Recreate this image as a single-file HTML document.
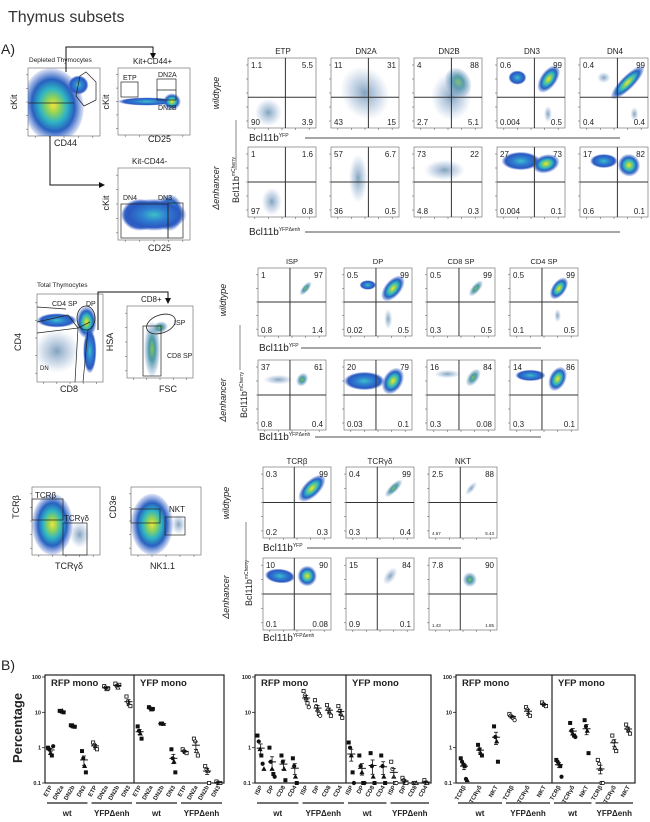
<!DOCTYPE html>
<html><head><meta charset="utf-8">
<style>
html,body{margin:0;padding:0;background:#fff;}
svg{display:block;font-family:"Liberation Sans",sans-serif;}
</style></head>
<body>
<svg id="fig" width="650" height="822" viewBox="0 0 650 822" xmlns="http://www.w3.org/2000/svg">
<defs>
<radialGradient id="hot"><stop offset="0" stop-color="#f2e33a"/><stop offset="0.22" stop-color="#8fd35a"/><stop offset="0.45" stop-color="#2fb5c4"/><stop offset="0.7" stop-color="#2860c0"/><stop offset="1" stop-color="#3a62c8" stop-opacity="0.15"/></radialGradient>
<radialGradient id="mid"><stop offset="0" stop-color="#3cc0c8"/><stop offset="0.4" stop-color="#2f7fd0"/><stop offset="0.8" stop-color="#2a58c0"/><stop offset="1" stop-color="#3a62c8" stop-opacity="0.1"/></radialGradient>
<radialGradient id="grn"><stop offset="0" stop-color="#7fc45a"/><stop offset="0.4" stop-color="#4a9aa8"/><stop offset="1" stop-color="#6a90c0" stop-opacity="0.1"/></radialGradient>
<radialGradient id="cool"><stop offset="0" stop-color="#4a7aa0" stop-opacity="0.7"/><stop offset="0.6" stop-color="#7fa0c8" stop-opacity="0.35"/><stop offset="1" stop-color="#a0b8d8" stop-opacity="0"/></radialGradient>
<marker id="arr" markerWidth="6" markerHeight="6" refX="5" refY="3" orient="auto"><path d="M0,0 L6,3 L0,6 z" fill="#111"/></marker>
</defs>
<text x="8" y="22" font-size="16" fill="#333">Thymus subsets</text>
<text x="1" y="54" font-size="14" fill="#222">A)</text>
<text x="1" y="670" font-size="14" fill="#222">B)</text>
</svg>
<script>
var svg=document.getElementById('fig');
var NS='http://www.w3.org/2000/svg';
function mk(tag,attrs,parent){var e=document.createElementNS(NS,tag);for(var k in attrs)e.setAttribute(k,attrs[k]);(parent||svg).appendChild(e);return e;}
function txt(x,y,s,size,parent,extra){var t=mk('text',Object.assign({x:x,y:y,'font-size':size,fill:'#222'},extra||{}),parent);t.textContent=s;return t;}

// ---------- flow plot helper ----------
function flowPlot(name,x,y,w,h,vq,hq,nums,blobs,small){
  var g=mk('g',{});
  
  
  mk('rect',{x:x,y:y,width:w,height:h,fill:'#fff',stroke:'#777','stroke-width':0.7},g);
  var cp=mk('clipPath',{id:'cp-'+name},g);
  mk('rect',{x:x,y:y,width:w,height:h},cp);
  var bg=mk('g',{'clip-path':'url(#cp-'+name+')'},g);
  blobs.forEach(function(b){
    var e=mk('ellipse',{cx:x+b[0]*w,cy:y+b[1]*h,rx:b[2]*w,ry:b[3]*h,fill:'url(#'+b[5]+')',transform:'rotate('+b[4]+' '+(x+b[0]*w)+' '+(y+b[1]*h)+')'},bg);
    
    
  });
  for(var i=0;i<5;i++){
    mk('line',{x1:x+w*(0.1+i*0.2),y1:y+h,x2:x+w*(0.1+i*0.2),y2:y+h+2,stroke:'#666','stroke-width':0.6},g);
    mk('line',{x1:x-2,y1:y+h*(0.1+i*0.2),x2:x,y2:y+h*(0.1+i*0.2),stroke:'#666','stroke-width':0.6},g);
  }
  if(vq!==null){
    var v=mk('line',{x1:x+vq*w,y1:y,x2:x+vq*w,y2:y+h,stroke:'#333','stroke-width':1},g);
    
    
    var hz=mk('line',{x1:x,y1:y+hq*h,x2:x+w,y2:y+hq*h,stroke:'#333','stroke-width':1},g);
    
    
  }
  if(nums){
    var fs=8;
    var a=txt(x+3,y+10,nums[0],fs,g);
    var b=txt(x+w-3,y+10,nums[1],fs,g,{'text-anchor':'end'});
    var c=txt(x+3,y+h-3,nums[2],small&&small[0]?4.5:fs,g);
    var d=txt(x+w-3,y+h-3,nums[3],small&&small[0]?4.5:fs,g,{'text-anchor':'end'});
  }
  return g;
}
function vlabel(x,y,s,size,name,italic){var t=txt(x,y,s,size,svg,{transform:'rotate(-90 '+x+' '+y+')','text-anchor':'middle','font-style':italic?'italic':'normal'});return t;}
function axisLab(x,y,base,sup,name,lineTo){
  var t=mk('text',{x:x,y:y,'font-size':10,fill:'#222'});t.textContent=base;
  var s=mk('tspan',{'font-size':5,dy:-4},t);s.textContent=sup;
  
  if(lineTo){var l=mk('line',{x1:lineTo[0],y1:y-3,x2:lineTo[1],y2:y-3,stroke:'#888','stroke-width':1.5});}
}
function plainLab(x,y,s,size,name,anchor){var t=txt(x,y,s,size,svg,{'text-anchor':anchor||'start'});return t;}

// ---------- left gating ----------
plainLab(29,62,'Depleted Thymocytes',6.5,'depleted-thymocytes-title');
flowPlot('cd44-ckit-plot',28,68,72,68,null,null,null,[[0.35,0.55,0.42,0.55,-10,'hot'],[0.7,0.25,0.14,0.14,0,'mid']]);
mk('path',{d:'M86,72 L96,82 L96,100 L84,106 L76,96 L80,76 Z',fill:'none',stroke:'#222','stroke-width':0.7});
mk('line',{x1:28,y1:103,x2:74,y2:103,stroke:'#222','stroke-width':0.8});
vlabel(17,102,'cKit',9,'ckit-axis-title');
plainLab(54,146,'CD44',9,'cd44-axis-title');
var ar1=mk('path',{d:'M66,72 L66,47 L153,47 L153,58',fill:'none',stroke:'#111','stroke-width':1,'marker-end':'url(#arr)'});

plainLab(133,64,'Kit+CD44+',8,'kit-cd44-pos-title');
flowPlot('cd25-ckit-plot',118,68,72,67,null,null,null,[[0.4,0.5,0.4,0.06,0,'mid'],[0.75,0.5,0.12,0.12,0,'hot']]);
mk('rect',{x:121,y:82,width:17,height:15,fill:'none',stroke:'#222','stroke-width':0.7});
mk('rect',{x:157,y:79,width:19,height:21,fill:'none',stroke:'#222','stroke-width':0.7});
mk('line',{x1:157,y1:90,x2:176,y2:90,stroke:'#222','stroke-width':0.7});
plainLab(123,80,'ETP',7,'etp-gate-label');plainLab(158,77,'DN2A',7,'dn2a-gate-label');plainLab(158,110,'DN2B',7,'dn2b-gate-label');
vlabel(109,102,'cKit',9,'ckit-axis-title-2');
plainLab(148,142,'CD25',9,'cd25-axis-title');
var ar2=mk('path',{d:'M50,136 L50,185 L104,185',fill:'none',stroke:'#111','stroke-width':1,'marker-end':'url(#arr)'});

plainLab(132,164,'Kit-CD44-',8,'kit-cd44-neg-title');
flowPlot('cd25-ckit-neg-plot',118,168,72,72,null,null,null,[[0.3,0.65,0.25,0.22,0,'mid'],[0.72,0.62,0.18,0.25,0,'hot'],[0.5,0.65,0.45,0.22,0,'mid']]);
mk('rect',{x:121,y:204,width:47,height:34,fill:'none',stroke:'#222','stroke-width':0.7});
mk('rect',{x:168,y:203,width:15,height:35,fill:'none',stroke:'#222','stroke-width':0.7});
plainLab(123,200,'DN4',7,'dn4-gate-label');plainLab(158,200,'DN3',7,'dn3-gate-label');
vlabel(109,203,'cKit',9,'ckit-axis-title-3');
plainLab(148,251,'CD25',9,'cd25-axis-title-2');

// ---------- DN top grid ----------
var dnNames=['ETP','DN2A','DN2B','DN3','DN4'];
var dnX=[248,331,414,497,580];
var dnWT=[['1.1','5.5','90','3.9'],['11','31','43','15'],['4','88','2.7','5.1'],['0.6','99','0.004','0.5'],['0.4','99','0.4','0.4']];
var dnKO=[['1','1.6','97','0.8'],['57','6.7','36','0.5'],['73','22','4.8','0.3'],['27','73','0.004','0.1'],['17','82','0.6','0.1']];
var dnBlobWT=[[[0.3,0.78,0.2,0.2,0,'cool']],[[0.5,0.5,0.35,0.4,-30,'cool']],[[0.65,0.35,0.18,0.22,-30,'grn'],[0.55,0.55,0.3,0.35,0,'cool']],[[0.3,0.28,0.13,0.1,0,'mid'],[0.76,0.3,0.12,0.22,35,'hot'],[0.75,0.8,0.06,0.12,0,'cool']],[[0.7,0.35,0.1,0.32,45,'hot'],[0.35,0.28,0.1,0.08,0,'cool'],[0.8,0.8,0.06,0.1,0,'cool']]];
var dnBlobKO=[[[0.35,0.78,0.15,0.2,0,'cool']],[[0.4,0.45,0.14,0.35,0,'cool']],[[0.45,0.33,0.3,0.15,0,'cool']],[[0.35,0.2,0.28,0.13,0,'mid'],[0.72,0.24,0.2,0.13,-15,'hot']],[[0.35,0.2,0.2,0.1,0,'mid'],[0.72,0.26,0.16,0.16,-30,'hot']]];
dnNames.forEach(function(n,i){
  plainLab(dnX[i]+35,54,n,8,'col-title-'+n.toLowerCase(),'middle');
  flowPlot('dn-wt-'+n.toLowerCase(),dnX[i],58,68,70,0.55,0.56,dnWT[i],dnBlobWT[i]);
  flowPlot('dn-enh-'+n.toLowerCase(),dnX[i],147,68,70,0.55,0.5,dnKO[i],dnBlobKO[i]);
});
vlabel(219,93,'wildtype',9,'wildtype-row-label',true);
vlabel(219,188,'\u0394enhancer',9,'enhancer-row-label',true);
var mc=vlabel(239,180,'Bcl11b',9,'bcl11b-mcherry-axis-title');var mcs=mk('tspan',{'font-size':5,dy:-4},mc);mcs.textContent='mCherry';
mk('line',{x1:236,y1:120,x2:236,y2:170,stroke:'#888','stroke-width':1});
axisLab(249,141,'Bcl11b','YFP','bcl11b-yfp-axis-title-dn',[305,620]);
axisLab(249,235,'Bcl11b','YFP\u0394enh','bcl11b-yfpdenh-axis-title-dn',[305,620]);

// ---------- middle gating ----------
plainLab(37,287,'Total Thymocytes',6.5,'total-thymocytes-title');
flowPlot('cd8-cd4-plot',37,294,66,88,null,null,null,[[0.3,0.3,0.3,0.08,0,'mid'],[0.75,0.32,0.15,0.18,0,'hot'],[0.3,0.65,0.35,0.25,0,'cool'],[0.8,0.65,0.1,0.25,0,'mid']]);
mk('path',{d:'M37,307 L66,309 M37,322 L68,315 L78,328 L90,322 M37,333 L78,328 L75,382 M83,382 L88,330',fill:'none',stroke:'#222','stroke-width':0.7});
mk('ellipse',{cx:86,cy:318,rx:9,ry:12,fill:'none',stroke:'#222','stroke-width':0.8});
plainLab(52,306,'CD4 SP',7,'cd4sp-gate-label');plainLab(86,306,'DP',7,'dp-gate-label');plainLab(40,370,'DN',6,'dn-gate-label');
vlabel(21,342,'CD4',9,'cd4-axis-title');
plainLab(60,392,'CD8',9,'cd8-axis-title');
var ar3=mk('path',{d:'M98,330 L98,292 L168,292 L168,303',fill:'none',stroke:'#111','stroke-width':1,'marker-end':'url(#arr)'});

plainLab(141,302,'CD8+',8,'cd8-pos-title');
flowPlot('fsc-hsa-plot',127,306,66,72,null,null,null,[[0.5,0.3,0.12,0.08,-20,'grn'],[0.38,0.6,0.12,0.38,0,'grn']]);
mk('ellipse',{cx:161,cy:324,rx:15,ry:9,fill:'none',stroke:'#222','stroke-width':0.8,transform:'rotate(-20 161 324)'});
mk('rect',{x:143,y:326,width:18,height:50,fill:'none',stroke:'#222','stroke-width':0.7});
plainLab(174,325,'ISP',7,'isp-gate-label');plainLab(167,358,'CD8 SP',7,'cd8sp-gate-label');
vlabel(113,342,'HSA',9,'hsa-axis-title');
plainLab(159,392,'FSC',9,'fsc-axis-title');

var spNames=['ISP','DP','CD8 SP','CD4 SP'];
var spX=[258,344,427,510];
var spWT=[['1','97','0.8','1.4'],['0.5','99','0.02','0.5'],['0.5','99','0.3','0.5'],['0.5','99','0.1','0.5']];
var spKO=[['37','61','0.8','0.4'],['20','79','0.03','0.1'],['16','84','0.3','0.08'],['14','86','0.3','0.1']];
var spBlobWT=[[[0.7,0.3,0.05,0.12,40,'grn']],[[0.72,0.3,0.12,0.22,40,'hot'],[0.35,0.25,0.12,0.07,0,'mid'],[0.65,0.75,0.06,0.15,0,'cool']],[[0.72,0.3,0.06,0.14,40,'grn']],[[0.72,0.3,0.1,0.18,35,'hot'],[0.7,0.7,0.05,0.1,0,'cool']]];
var spBlobKO=[[[0.3,0.28,0.22,0.07,0,'cool'],[0.65,0.28,0.08,0.1,30,'grn']],[[0.3,0.3,0.3,0.13,0,'mid'],[0.72,0.3,0.14,0.2,30,'hot']],[[0.3,0.2,0.2,0.06,0,'cool'],[0.68,0.25,0.08,0.14,35,'grn']],[[0.3,0.22,0.22,0.08,0,'mid'],[0.7,0.27,0.12,0.18,25,'hot']]];
spNames.forEach(function(n,i){
  var k=n.replace(' ','').toLowerCase();
  plainLab(spX[i]+34,264,n,7.5,'col-title-'+k,'middle');
  flowPlot('sp-wt-'+k,spX[i],268,68,68,0.47,0.5,spWT[i],spBlobWT[i]);
  flowPlot('sp-enh-'+k,spX[i],360,68,70,0.47,0.5,spKO[i],spBlobKO[i]);
});
vlabel(226,300,'wildtype',9,'wildtype-row-label-2',true);
vlabel(226,400,'\u0394enhancer',9,'enhancer-row-label-2',true);
var mc2=vlabel(247,395,'Bcl11b',9,'bcl11b-mcherry-axis-title-2');var mcs2=mk('tspan',{'font-size':5,dy:-4},mc2);mcs2.textContent='mCherry';
mk('line',{x1:240,y1:325,x2:240,y2:370,stroke:'#888','stroke-width':1});
axisLab(259,351,'Bcl11b','YFP','bcl11b-yfp-axis-title-sp',[301,541]);
axisLab(259,440,'Bcl11b','YFP\u0394enh','bcl11b-yfpdenh-axis-title-sp',[315,541]);

// ---------- TCR gating ----------
flowPlot('tcrgd-tcrb-plot',32,487,68,68,null,null,null,[[0.3,0.55,0.3,0.45,0,'hot'],[0.7,0.7,0.15,0.2,0,'cool']]);
mk('rect',{x:32,y:499,width:31,height:21,fill:'none',stroke:'#222','stroke-width':0.7});
mk('rect',{x:63,y:523,width:24,height:32,fill:'none',stroke:'#222','stroke-width':0.7});
plainLab(35,498,'TCR\u03b2',8,'tcrb-gate-label');plainLab(64,521,'TCR\u03b3\u03b4',8,'tcrgd-gate-label');
vlabel(19,507,'TCR\u03b2',9,'tcrb-axis-title');
plainLab(55,569,'TCR\u03b3\u03b4',9,'tcrgd-axis-title');
flowPlot('nk11-cd3e-plot',131,487,70,68,null,null,null,[[0.3,0.55,0.3,0.45,0,'hot'],[0.68,0.55,0.1,0.15,0,'cool']]);
mk('rect',{x:131,y:509,width:29,height:14,fill:'none',stroke:'#222','stroke-width':0.7});
mk('rect',{x:165,y:517,width:20,height:18,fill:'none',stroke:'#222','stroke-width':0.7});
plainLab(169,512,'NKT',8,'nkt-gate-label');
vlabel(116,507,'CD3e',9,'cd3e-axis-title');
plainLab(150,569,'NK1.1',9,'nk11-axis-title');

var tcNames=['TCR\u03b2','TCR\u03b3\u03b4','NKT'];
var tcKeys=['tcrb','tcrgd','nkt'];
var tcX=[263,346,429];
var tcWT=[['0.3','99','0.2','0.3'],['0.4','99','0.3','0.4'],['2.5','88','4.67','5.43']];
var tcKO=[['10','90','0.1','0.08'],['15','84','0.9','0.1'],['7.8','90','1.43','1.85']];
var tcBlobWT=[[[0.72,0.3,0.12,0.24,45,'hot']],[[0.7,0.3,0.06,0.16,45,'grn']],[[0.62,0.3,0.05,0.12,40,'cool']]];
var tcBlobKO=[[[0.25,0.25,0.22,0.1,5,'mid'],[0.65,0.25,0.14,0.14,0,'hot']],[[0.65,0.25,0.08,0.14,35,'cool']],[[0.6,0.3,0.1,0.1,0,'grn']]];
tcNames.forEach(function(n,i){
  plainLab(tcX[i]+34,464,n,8,'col-title-'+tcKeys[i],'middle');
  flowPlot('tcr-wt-'+tcKeys[i],tcX[i],467,68,71,0.46,0.5,tcWT[i],tcBlobWT[i],i==2?[1]:null);
  flowPlot('tcr-enh-'+tcKeys[i],tcX[i],558,68,72,0.46,0.5,tcKO[i],tcBlobKO[i],i==2?[1]:null);
});
vlabel(229,503,'wildtype',9,'wildtype-row-label-3',true);
vlabel(229,597,'\u0394enhancer',9,'enhancer-row-label-3',true);
var mc3=vlabel(252,583,'Bcl11b',9,'bcl11b-mcherry-axis-title-3');var mcs3=mk('tspan',{'font-size':5,dy:-4},mc3);mcs3.textContent='mCherry';
mk('line',{x1:246,y1:522,x2:246,y2:570,stroke:'#888','stroke-width':1});
axisLab(263,551,'Bcl11b','YFP','bcl11b-yfp-axis-title-tcr',[307,461]);
axisLab(263,641,'Bcl11b','YFP\u0394enh','bcl11b-yfpdenh-axis-title-tcr',null);
</script>
<script>
// ---------- Panel B data ----------
var yTicks=[100,10,1,0.1];
var yTickLabels=['100','10','1','0.1'];
var c1Cats=['ETP','DN2a','DN2b','DN3','ETP','DN2a','DN2b','DN3'];
var c1RFP=[[1.0,0.9,0.7,0.6,1.1],[11,10.5,11,10],[4.3,4,4.2,3.9],[0.8,0.5,0.3,0.2],[1.4,1.2,1.0,0.9],[55,50,45,48],[65,55,50,60],[28,20,17,15]];
var c1YFP=[[4,3,2.5,1.8],[14,13,12,12.5],[4.8,4.8,4.7],[0.9,0.5,0.4,0.2],[0.9,0.8,0.75,0.7],[1.8,1.5,0.8,0.6],[0.3,0.25,0.22,0.1],[0.11,0.1,0.1,0.1]];
var c2Cats=['ISP','DP','CD8','CD4','ISP','DP','CD8','CD4'];
var c2RFP=[[2.2,1.5,0.9,0.6,0.35,0.25],[1.0,0.4,0.25,0.18,0.15],[0.6,0.4,0.25,0.12],[0.5,0.3,0.15,0.1],[40,30,25,18,14],[22,15,12,9,8],[16,12,10,8],[15,11,9,7]];
var c2YFP=[[1.4,1.0,0.6,0.2,0.1],[0.6,0.3,0.2,0.1,0.1],[0.7,0.3,0.15,0.1],[0.6,0.3,0.15,0.1],[0.4,0.25,0.15,0.1,0.1],[0.14,0.12,0.1,0.1],[0.1,0.1,0.1],[0.12,0.1,0.1]];
var c3Cats=['TCR\u03b2','TCR\u03b3\u03b4','NKT','TCR\u03b2','TCR\u03b3\u03b4','NKT'];
var c3RFP=[[0.5,0.4,0.35,0.3,0.13,0.12],[1.2,0.9,0.7,0.6],[4,2,1.5,0.4],[9,8,7.5,7,6],[14,12,9,8],[19,17,16,15]];
var c3YFP=[[0.45,0.4,0.35,0.3,0.15],[5,3,2.5,2.2,2],[6,4,3,0.7],[0.45,0.35,0.25,0.1,0.1],[2.2,1.5,1,0.8],[4.5,3.5,3,2.5]];
var panelTitles=['RFP mono','YFP mono'];
var groupLabels=['wt','YFP\u0394enh'];

var T=677,B=783;
function yS(v){return T+(2-Math.log10(v))*(B-T)/3;}
function marker(g,x,y,shape,open){
  var st={fill:open?'#fff':'#111',stroke:'#111','stroke-width':0.8};
  var e;
  if(shape==0)e=mk('rect',Object.assign({x:x-1.6,y:y-1.6,width:3.2,height:3.2},st),g);
  else if(shape==1)e=mk('circle',Object.assign({cx:x,cy:y,r:1.7},st),g);
  else e=mk('path',Object.assign({d:'M'+x+','+(y-2)+' L'+(x+1.9)+','+(y+1.5)+' L'+(x-1.9)+','+(y+1.5)+' Z'},st),g);
  
  
}
function dotChart(name,x0,x1,div,cats,left,right){
  var g=mk('g',{});
  
  
  var frame=mk('rect',{x:x0,y:T-2,width:x1-x0,height:B-T+2,fill:'none',stroke:'#222','stroke-width':1.2},g);
  
  
  mk('line',{x1:div,y1:T-2,x2:div,y2:B,stroke:'#222','stroke-width':1.2},g);
  yTicks.forEach(function(v,i){
    mk('line',{x1:x0-3,y1:yS(v),x2:x0,y2:yS(v),stroke:'#222','stroke-width':0.8},g);
    var t=txt(x0-4,yS(v)+2,yTickLabels[i],5.5,g,{'text-anchor':'end','font-weight':'bold'});
    
    
  });
  [[x0,div,left],[div,x1,right]].forEach(function(h,hi){
    var hx0=h[0],hx1=h[1],series=h[2];
    var n=cats.length,slot=(hx1-hx0)/n;
    var tt=txt(hx0+6,T+9,panelTitles[hi],9.5,g,{'font-weight':'bold'});
    
    
    series.forEach(function(vals,ci){
      var cx=hx0+(ci+0.5)*slot;
      var open=ci>=n/2;
      vals.forEach(function(v,j){marker(g,cx+(j-(vals.length-1)/2)*1.3,yS(v),j%3,open);});
      var m=vals.reduce(function(a,b){return a+b;},0)/vals.length;
      var sd=Math.sqrt(vals.reduce(function(a,b){return a+(b-m)*(b-m);},0)/Math.max(1,vals.length-1));
      var se=sd/Math.sqrt(vals.length);
      var mline=mk('line',{x1:cx-4,y1:yS(m),x2:cx+4,y2:yS(m),stroke:'#111','stroke-width':1},g);
      
      
      var lo=Math.max(0.1,m-se),hi2=m+se;
      mk('line',{x1:cx,y1:yS(lo),x2:cx,y2:yS(hi2),stroke:'#111','stroke-width':0.8},g);
      mk('line',{x1:cx-2,y1:yS(lo),x2:cx+2,y2:yS(lo),stroke:'#111','stroke-width':0.8},g);
      mk('line',{x1:cx-2,y1:yS(hi2),x2:cx+2,y2:yS(hi2),stroke:'#111','stroke-width':0.8},g);
      var cl=txt(cx+2,B+4,cats[ci],6,g,{'text-anchor':'end','font-weight':'bold',transform:'rotate(-60 '+(cx+2)+' '+(B+4)+')'});
      
      
    });
    for(var gi=0;gi<2;gi++){
      var gx0=hx0+gi*slot*n/2+2,gx1=hx0+(gi+1)*slot*n/2-2;
      mk('line',{x1:gx0,y1:803,x2:gx1,y2:803,stroke:'#444','stroke-width':1.5},g);
      var gl=txt((gx0+gx1)/2,816,groupLabels[gi],8,g,{'text-anchor':'middle','font-weight':'bold'});
      
      
    }
  });
}
dotChart('dn-percentage-chart',45,224,134,c1Cats,c1RFP,c1YFP);
dotChart('sp-percentage-chart',255,431,346,c2Cats,c2RFP,c2YFP);
dotChart('tcr-percentage-chart',456,635,552,c3Cats,c3RFP,c3YFP);
var pl=txt(22,728,'Percentage',13,svg,{'font-weight':'bold','text-anchor':'middle',transform:'rotate(-90 22 728)'});


</script>
</body></html>
